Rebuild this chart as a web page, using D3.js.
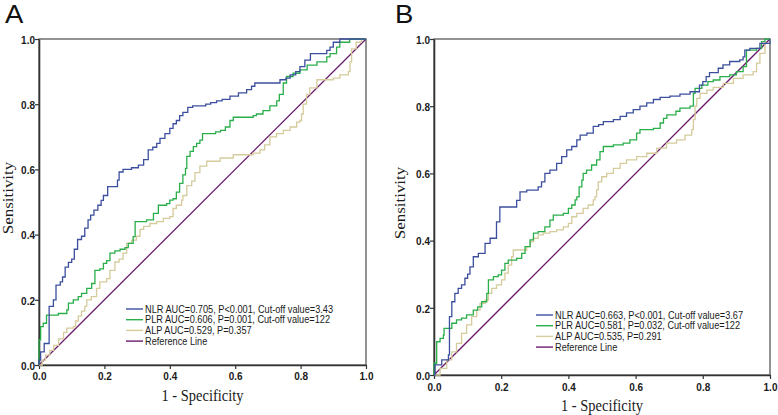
<!DOCTYPE html>
<html><head><meta charset="utf-8">
<script src="https://cdn.jsdelivr.net/npm/d3@7"></script>
<style>
html,body{margin:0;padding:0;background:#fff;}
svg{display:block;}
</style></head>
<body>
<svg id="chart" width="778" height="415"></svg>
<script>
// ---------- data (fpr, tpr) ----------
const ticks = [0.0, 0.2, 0.4, 0.6, 0.8, 1.0];
const panelLabels = ["A", "B"];
const seriesNames = ["NLR", "PLR", "ALP", "Reference Line"];
const legendA = ["NLR AUC=0.705, P<0.001, Cut-off value=3.43", "PLR AUC=0.606, P=0.001, Cut-off value=122", "ALP AUC=0.529, P=0.357", "Reference Line"];
const legendB = ["NLR AUC=0.663, P<0.001, Cut-off value=3.67", "PLR AUC=0.581, P=0.032, Cut-off value=122", "ALP AUC=0.535, P=0.291", "Reference Line"];
const referenceLine = [[0, 0], [1, 1]];

const nlrA = [[0,0],[0,0.015],[0.005,0.04],[0.016,0.066],[0.031,0.18],[0.044,0.2],[0.052,0.245],[0.065,0.255],[0.072,0.27],[0.08,0.30],[0.09,0.315],[0.1,0.325],[0.108,0.355],[0.118,0.385],[0.13,0.395],[0.14,0.42],[0.15,0.445],[0.158,0.46],[0.168,0.475],[0.18,0.49],[0.19,0.505],[0.197,0.52],[0.21,0.547],[0.24,0.567],[0.245,0.592],[0.257,0.60],[0.283,0.605],[0.304,0.613],[0.32,0.63],[0.334,0.66],[0.348,0.668],[0.36,0.68],[0.37,0.695],[0.385,0.71],[0.40,0.726],[0.41,0.74],[0.42,0.75],[0.43,0.765],[0.44,0.775],[0.455,0.79],[0.47,0.795],[0.51,0.80],[0.525,0.805],[0.543,0.81],[0.56,0.815],[0.584,0.825],[0.61,0.835],[0.635,0.845],[0.65,0.855],[0.66,0.865],[0.737,0.875],[0.755,0.88],[0.768,0.89],[0.785,0.9],[0.798,0.915],[0.813,0.935],[0.83,0.955],[0.88,0.965],[0.89,0.975],[0.90,0.99],[0.92,1.0],[1,1]];
const plrA = [[0,0],[0,0.077],[0.005,0.118],[0.013,0.128],[0.023,0.153],[0.059,0.158],[0.085,0.169],[0.09,0.19],[0.105,0.2],[0.12,0.21],[0.13,0.22],[0.146,0.235],[0.161,0.25],[0.171,0.29],[0.186,0.295],[0.197,0.312],[0.207,0.32],[0.217,0.343],[0.232,0.35],[0.248,0.355],[0.263,0.36],[0.273,0.373],[0.288,0.394],[0.294,0.44],[0.329,0.445],[0.35,0.465],[0.365,0.49],[0.39,0.495],[0.4,0.506],[0.41,0.51],[0.42,0.53],[0.43,0.557],[0.44,0.583],[0.448,0.603],[0.452,0.64],[0.462,0.655],[0.472,0.67],[0.482,0.68],[0.492,0.69],[0.5,0.71],[0.54,0.715],[0.555,0.72],[0.57,0.73],[0.584,0.75],[0.594,0.76],[0.655,0.765],[0.665,0.77],[0.685,0.78],[0.706,0.795],[0.727,0.81],[0.735,0.83],[0.747,0.865],[0.757,0.885],[0.777,0.895],[0.798,0.905],[0.82,0.92],[0.85,0.93],[0.88,0.945],[0.89,0.955],[0.91,0.975],[0.92,0.99],[0.95,1],[1,1]];
const alpA = [[0,0],[0.01,0.015],[0.02,0.03],[0.033,0.045],[0.045,0.06],[0.06,0.08],[0.075,0.1],[0.085,0.113],[0.105,0.118],[0.112,0.135],[0.12,0.15],[0.13,0.165],[0.14,0.18],[0.146,0.2],[0.16,0.21],[0.176,0.235],[0.186,0.255],[0.207,0.265],[0.217,0.29],[0.232,0.316],[0.245,0.325],[0.257,0.343],[0.268,0.373],[0.283,0.383],[0.298,0.395],[0.309,0.416],[0.32,0.425],[0.339,0.434],[0.36,0.44],[0.38,0.45],[0.4,0.455],[0.41,0.48],[0.42,0.49],[0.436,0.506],[0.44,0.52],[0.452,0.55],[0.467,0.564],[0.477,0.59],[0.492,0.61],[0.513,0.625],[0.554,0.635],[0.594,0.645],[0.655,0.65],[0.676,0.66],[0.69,0.675],[0.706,0.70],[0.726,0.71],[0.747,0.72],[0.768,0.73],[0.788,0.745],[0.798,0.75],[0.803,0.77],[0.808,0.8],[0.818,0.83],[0.828,0.85],[0.85,0.875],[0.9,0.88],[0.92,0.89],[0.946,0.9],[0.951,0.93],[0.956,0.97],[0.97,0.99],[0.986,1],[1,1]];

const nlrB = [[0,0],[0.003,0.03],[0.023,0.045],[0.043,0.06],[0.046,0.174],[0.053,0.218],[0.062,0.243],[0.072,0.258],[0.082,0.268],[0.092,0.288],[0.1,0.3],[0.107,0.322],[0.117,0.352],[0.132,0.362],[0.152,0.392],[0.167,0.407],[0.186,0.456],[0.196,0.5],[0.246,0.52],[0.256,0.545],[0.276,0.55],[0.31,0.56],[0.32,0.575],[0.33,0.6],[0.345,0.61],[0.365,0.63],[0.38,0.65],[0.395,0.67],[0.41,0.68],[0.425,0.7],[0.435,0.714],[0.455,0.72],[0.474,0.74],[0.49,0.745],[0.504,0.754],[0.534,0.76],[0.554,0.77],[0.573,0.78],[0.593,0.79],[0.613,0.8],[0.633,0.81],[0.653,0.82],[0.673,0.826],[0.702,0.83],[0.732,0.836],[0.762,0.843],[0.79,0.863],[0.8,0.873],[0.81,0.888],[0.82,0.9],[0.846,0.913],[0.86,0.923],[0.88,0.933],[0.91,0.938],[0.92,0.947],[0.925,0.967],[0.94,0.972],[0.97,0.987],[1,1]];
const plrB = [[0,0],[0,0.035],[0.008,0.099],[0.018,0.109],[0.028,0.119],[0.03,0.139],[0.053,0.154],[0.067,0.164],[0.082,0.169],[0.097,0.179],[0.117,0.193],[0.13,0.203],[0.142,0.218],[0.157,0.243],[0.162,0.283],[0.177,0.293],[0.191,0.298],[0.201,0.312],[0.211,0.332],[0.221,0.342],[0.246,0.347],[0.261,0.362],[0.271,0.382],[0.286,0.402],[0.296,0.422],[0.31,0.427],[0.33,0.441],[0.345,0.461],[0.355,0.476],[0.385,0.481],[0.4,0.496],[0.41,0.506],[0.42,0.521],[0.425,0.53],[0.432,0.56],[0.44,0.58],[0.444,0.6],[0.454,0.61],[0.469,0.625],[0.484,0.64],[0.494,0.665],[0.504,0.68],[0.534,0.685],[0.563,0.69],[0.583,0.7],[0.603,0.72],[0.613,0.73],[0.653,0.734],[0.673,0.75],[0.683,0.764],[0.693,0.774],[0.72,0.785],[0.732,0.794],[0.762,0.8],[0.772,0.838],[0.777,0.853],[0.797,0.863],[0.815,0.873],[0.831,0.878],[0.851,0.888],[0.88,0.893],[0.9,0.903],[0.92,0.918],[0.93,0.967],[0.96,0.972],[0.975,0.992],[0.985,1],[1,1]];
const alpB = [[0,0],[0.018,0.02],[0.038,0.045],[0.053,0.069],[0.067,0.094],[0.082,0.124],[0.097,0.149],[0.112,0.174],[0.127,0.193],[0.137,0.213],[0.152,0.223],[0.162,0.243],[0.172,0.258],[0.186,0.268],[0.201,0.283],[0.211,0.303],[0.221,0.327],[0.231,0.352],[0.236,0.372],[0.266,0.372],[0.276,0.382],[0.286,0.397],[0.296,0.407],[0.31,0.417],[0.325,0.422],[0.345,0.427],[0.365,0.432],[0.385,0.441],[0.4,0.451],[0.41,0.471],[0.425,0.481],[0.444,0.496],[0.459,0.506],[0.474,0.521],[0.479,0.53],[0.484,0.551],[0.489,0.575],[0.499,0.59],[0.514,0.6],[0.534,0.615],[0.554,0.63],[0.573,0.64],[0.603,0.65],[0.633,0.66],[0.663,0.675],[0.692,0.69],[0.722,0.70],[0.747,0.714],[0.767,0.73],[0.772,0.76],[0.777,0.8],[0.782,0.823],[0.792,0.838],[0.812,0.848],[0.831,0.856],[0.861,0.868],[0.891,0.883],[0.92,0.893],[0.95,0.903],[0.96,0.928],[0.97,0.957],[0.985,0.987],[1,1]];

// ---------- styling / layout ----------
const colors = ["#3c4f9f", "#2aae4a", "#d5cb9c", "#6d1c6d"];
const SY = 1.17; // vertical stretch of the original image's text

const panels = [
  {label: panelLabels[0], x0: 39, x1: 366, y0: 365, y1: 39, curves: [nlrA, plrA, alpA], legend: legendA,
   letterX: 5, legX: 126, legY: 309, yTitleX: 13, yTitleY: 198, xTitleY: 401, xLabY: 380, yLabRight: 35},
  {label: panelLabels[1], x0: 434, x1: 770, y0: 375, y1: 39, curves: [nlrB, plrB, alpB], legend: legendB,
   letterX: 395, legX: 536, legY: 315, yTitleX: 405, yTitleY: 203, xTitleY: 411, xLabY: 391, yLabRight: 430}
];

const svg = d3.select("#chart");

panels.forEach(p => {
  const x = d3.scaleLinear().domain([0, 1]).range([p.x0, p.x1]);
  const y = d3.scaleLinear().domain([0, 1]).range([p.y0, p.y1]);
  const g = svg.append("g");

  // panel letter
  g.append("text").attr("transform", `translate(${p.letterX},23) scale(1.1,1)`)
    .attr("font-family", "Liberation Sans, Arial, sans-serif").attr("font-size", 25)
    .attr("fill", "#111").text(p.label);

  // frame (top and right)
  g.append("rect").attr("x", p.x0).attr("y", p.y1).attr("width", p.x1 - p.x0).attr("height", p.y0 - p.y1)
    .attr("fill", "none").attr("stroke", "#5a5a5a").attr("stroke-width", 1.3);

  // axes
  const xAxis = g.append("g").attr("transform", `translate(0,${p.y0})`)
    .call(d3.axisBottom(x).tickValues(ticks).tickFormat(d3.format(".1f")).tickSize(4).tickSizeOuter(0));
  const yAxis = g.append("g").attr("transform", `translate(${p.x0},0)`)
    .call(d3.axisLeft(y).tickValues(ticks).tickFormat(d3.format(".1f")).tickSize(4).tickSizeOuter(0));
  [xAxis, yAxis].forEach(a => {
    a.select(".domain").attr("stroke", "#333").attr("stroke-width", 1.6);
    a.selectAll(".tick line").attr("stroke", "#333").attr("stroke-width", 1.2);
    a.selectAll(".tick text").attr("font-family", "Liberation Sans, Arial, sans-serif")
      .attr("font-size", 10).attr("font-weight", "bold").attr("fill", "#1a1a1a");
  });
  xAxis.selectAll(".tick text").attr("y", null).attr("dy", null)
    .attr("transform", `translate(0,${p.xLabY - p.y0}) scale(1,${SY})`);
  yAxis.selectAll(".tick text").attr("x", null).attr("dy", "0.36em")
    .attr("transform", `translate(${p.yLabRight - p.x0},0) scale(1,${SY})`);

  // reference line
  const line = d3.line().x(d => x(d[0])).y(d => y(d[1]));
  g.append("path").datum(referenceLine).attr("d", line)
    .attr("fill", "none").attr("stroke", colors[3]).attr("stroke-width", 1.3);

  // ROC curves (staircase)
  const stepLine = d3.line().x(d => x(d[0])).y(d => y(d[1])).curve(d3.curveStepAfter);
  [2, 1, 0].forEach(i => {
    g.append("path").datum(p.curves[i]).attr("d", stepLine)
      .attr("fill", "none").attr("stroke", colors[i]).attr("stroke-width", 1.3)
      .attr("stroke-linejoin", "miter");
  });

  // legend
  p.legend.forEach((t, i) => {
    const ly = p.legY + i * 10.7;
    g.append("line").attr("x1", p.legX).attr("x2", p.legX + 17).attr("y1", ly).attr("y2", ly)
      .attr("stroke", colors[i]).attr("stroke-width", 1.4);
    g.append("text").attr("transform", `translate(${p.legX + 19},${ly}) scale(1,${SY})`)
      .attr("dy", "0.35em")
      .attr("font-family", "Liberation Sans, Arial, sans-serif").attr("font-size", 9.2)
      .attr("fill", "#1a1a1a").text(t);
  });

  // axis titles
  g.append("text").attr("transform", `translate(${(p.x0 + p.x1) / 2},${p.xTitleY}) scale(1,${SY})`)
    .attr("text-anchor", "middle").attr("font-family", "Liberation Serif, Times New Roman, serif")
    .attr("font-size", 14.5).attr("fill", "#1a1a1a").text("1 - Specificity");
  g.append("text").attr("transform", `translate(${p.yTitleX},${p.yTitleY}) scale(1,${SY}) rotate(-90)`)
    .attr("text-anchor", "middle").attr("font-family", "Liberation Serif, Times New Roman, serif")
    .attr("font-size", 14.5).attr("fill", "#1a1a1a").text("Sensitivity");
});
</script>
</body></html>
